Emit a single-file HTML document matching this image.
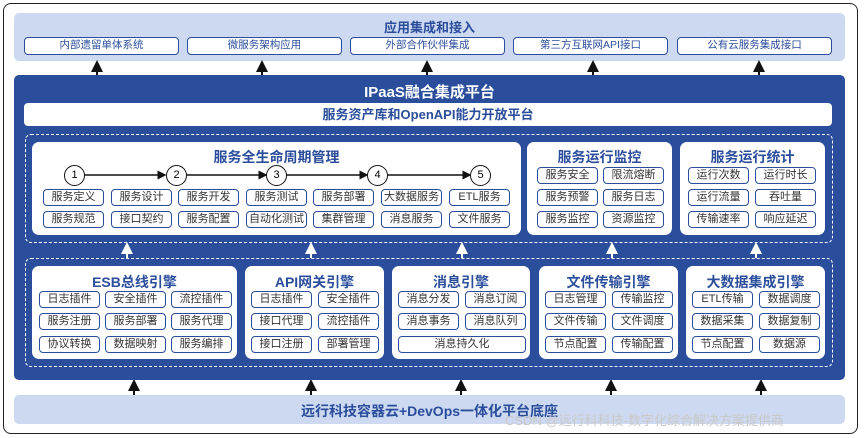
<!DOCTYPE html><html><head><meta charset="utf-8"><style>
*{margin:0;padding:0;box-sizing:border-box}
body{width:865px;height:438px;background:#fff;position:relative;overflow:hidden;font-family:"Liberation Sans","Noto Sans CJK SC",sans-serif}
div{position:absolute}
.b{border:1.5px solid #2a4d9c;border-radius:4px;background:#fff;font-size:11px;color:#333;text-align:center;line-height:14px}
.t{border:1.5px solid #2a4d9c;border-radius:4px;background:#fff;font-size:10.5px;color:#2a4d9c;text-align:center;line-height:15px;height:18px;top:37px;width:155px}
.card{background:#fff;border-radius:7px}
.h{font-weight:bold;color:#2a4d9c;font-size:14px;text-align:center}
.c{width:21px;height:21px;border:1.5px solid #111;border-radius:50%;background:#fff;font-size:11px;text-align:center;line-height:18px;top:165px}
.dash{border:1.5px dashed #fff;border-radius:6px}
.ua,.ba{width:2px;height:10px}
</style></head><body>
<div style="left:3px;top:3px;width:855px;height:431px;border:1.5px solid #222;border-radius:8px"></div>
<div style="left:14px;top:13px;width:831px;height:48px;background:#cdd9f0;border-radius:5px"></div>
<div class="h" style="left:14px;top:17px;width:831px;font-size:13px">应用集成和接入</div>
<div class="t" style="left:24px">内部遗留单体系统</div>
<div class="t" style="left:187px">微服务架构应用</div>
<div class="t" style="left:350px">外部合作伙伴集成</div>
<div class="t" style="left:513px">第三方互联网API接口</div>
<div class="t" style="left:677px">公有云服务集成接口</div>
<svg style="position:absolute;left:0;top:0" width="865" height="438">
<defs><marker id="k" markerWidth="6" markerHeight="6" refX="3" refY="3" orient="auto"><path d="M0,0L6,3L0,6z" fill="#111"/></marker>
<marker id="w" markerWidth="6" markerHeight="6" refX="3" refY="3" orient="auto"><path d="M0,0L6,3L0,6z" fill="#fff"/></marker></defs>
<g stroke="#111" stroke-width="2" marker-end="url(#k)">
<line x1="97" y1="75" x2="97" y2="66"/><line x1="262" y1="75" x2="262" y2="66"/><line x1="427" y1="75" x2="427" y2="66"/><line x1="593" y1="75" x2="593" y2="66"/><line x1="759" y1="75" x2="759" y2="66"/>
<line x1="134" y1="395" x2="134" y2="385"/><line x1="311" y1="395" x2="311" y2="385"/><line x1="461" y1="395" x2="461" y2="385"/><line x1="611" y1="395" x2="611" y2="385"/><line x1="761" y1="395" x2="761" y2="385"/>
</g></svg>
<div style="left:14px;top:75px;width:831px;height:305px;background:#2a4d9c;border-radius:5px"></div>
<div style="left:14px;top:81px;width:831px;text-align:center;color:#fff;font-weight:bold;font-size:15px">IPaaS融合集成平台</div>
<div style="left:24px;top:103px;width:808px;height:23px;background:#fff;border-radius:4px;text-align:center;color:#2a4d9c;font-weight:bold;font-size:13px;line-height:23px">服务资产库和OpenAPI能力开放平台</div>
<div class="dash" style="left:25px;top:134px;width:808px;height:109px"></div>
<div class="dash" style="left:25px;top:258px;width:808px;height:109px"></div>
<svg style="position:absolute;left:0;top:0" width="865" height="438"><g stroke="#fff" stroke-width="2" marker-end="url(#w)">
<line x1="127" y1="258" x2="127" y2="248"/><line x1="311" y1="258" x2="311" y2="248"/><line x1="462" y1="258" x2="462" y2="248"/><line x1="612" y1="258" x2="612" y2="248"/><line x1="756" y1="258" x2="756" y2="248"/></g></svg>
<!-- row 1 cards -->
<div class="card" style="left:32px;top:142px;width:489px;height:93px"></div>
<div class="h" style="left:32px;top:147px;width:489px">服务全生命周期管理</div>
<svg style="position:absolute;left:0;top:0" width="865" height="438"><g stroke="#111" stroke-width="1.5" marker-end="url(#k)">
<line x1="84" y1="175" x2="162" y2="175"/><line x1="186" y1="175" x2="263" y2="175"/><line x1="286" y1="175" x2="364" y2="175"/><line x1="387" y1="175" x2="467" y2="175"/></g></svg>
<div class="c" style="left:64px">1</div><div class="c" style="left:166px">2</div><div class="c" style="left:266px">3</div><div class="c" style="left:367px">4</div><div class="c" style="left:470px">5</div>
<div class="card" style="left:527px;top:142px;width:145px;height:93px"></div>
<div class="h" style="left:527px;top:147px;width:145px">服务运行监控</div>
<div class="card" style="left:680px;top:142px;width:145px;height:93px"></div>
<div class="h" style="left:680px;top:147px;width:145px">服务运行统计</div>
<!-- row 2 cards -->
<div class="card" style="left:32px;top:266px;width:205px;height:93px"></div>
<div class="h" style="left:32px;top:272px;width:205px">ESB总线引擎</div>
<div class="card" style="left:245px;top:266px;width:139px;height:93px"></div>
<div class="h" style="left:245px;top:272px;width:139px">API网关引擎</div>
<div class="card" style="left:392px;top:266px;width:138px;height:93px"></div>
<div class="h" style="left:392px;top:272px;width:138px">消息引擎</div>
<div class="card" style="left:539px;top:266px;width:139px;height:93px"></div>
<div class="h" style="left:539px;top:272px;width:139px">文件传输引擎</div>
<div class="card" style="left:686px;top:266px;width:139px;height:93px"></div>
<div class="h" style="left:686px;top:272px;width:139px">大数据集成引擎</div>
<!-- items -->
<div class="b" style="left:43px;top:189px;width:61px;height:17px">服务定义</div>
<div class="b" style="left:111px;top:189px;width:61px;height:17px">服务设计</div>
<div class="b" style="left:178px;top:189px;width:61px;height:17px">服务开发</div>
<div class="b" style="left:246px;top:189px;width:61px;height:17px">服务测试</div>
<div class="b" style="left:313px;top:189px;width:61px;height:17px">服务部署</div>
<div class="b" style="left:381px;top:189px;width:61px;height:17px">大数据服务</div>
<div class="b" style="left:449px;top:189px;width:61px;height:17px">ETL服务</div>
<div class="b" style="left:43px;top:211px;width:61px;height:17px">服务规范</div>
<div class="b" style="left:111px;top:211px;width:61px;height:17px">接口契约</div>
<div class="b" style="left:178px;top:211px;width:61px;height:17px">服务配置</div>
<div class="b" style="left:246px;top:211px;width:61px;height:17px">自动化测试</div>
<div class="b" style="left:313px;top:211px;width:61px;height:17px">集群管理</div>
<div class="b" style="left:381px;top:211px;width:61px;height:17px">消息服务</div>
<div class="b" style="left:449px;top:211px;width:61px;height:17px">文件服务</div>
<div class="b" style="left:537px;top:167px;width:61px;height:17px">服务安全</div>
<div class="b" style="left:603px;top:167px;width:61px;height:17px">限流熔断</div>
<div class="b" style="left:537px;top:189px;width:61px;height:17px">服务预警</div>
<div class="b" style="left:603px;top:189px;width:61px;height:17px">服务日志</div>
<div class="b" style="left:537px;top:211px;width:61px;height:17px">服务监控</div>
<div class="b" style="left:603px;top:211px;width:61px;height:17px">资源监控</div>
<div class="b" style="left:688px;top:167px;width:61px;height:17px">运行次数</div>
<div class="b" style="left:755px;top:167px;width:61px;height:17px">运行时长</div>
<div class="b" style="left:688px;top:189px;width:61px;height:17px">运行流量</div>
<div class="b" style="left:755px;top:189px;width:61px;height:17px">吞吐量</div>
<div class="b" style="left:688px;top:211px;width:61px;height:17px">传输速率</div>
<div class="b" style="left:755px;top:211px;width:61px;height:17px">响应延迟</div>

<div class="b" style="left:39px;top:291px;width:61px;height:17px">日志插件</div>
<div class="b" style="left:105px;top:291px;width:61px;height:17px">安全插件</div>
<div class="b" style="left:171px;top:291px;width:61px;height:17px">流控插件</div>
<div class="b" style="left:39px;top:313px;width:61px;height:17px">服务注册</div>
<div class="b" style="left:105px;top:313px;width:61px;height:17px">服务部署</div>
<div class="b" style="left:171px;top:313px;width:61px;height:17px">服务代理</div>
<div class="b" style="left:39px;top:336px;width:61px;height:17px">协议转换</div>
<div class="b" style="left:105px;top:336px;width:61px;height:17px">数据映射</div>
<div class="b" style="left:171px;top:336px;width:61px;height:17px">服务编排</div>
<div class="b" style="left:251px;top:291px;width:61px;height:17px">日志插件</div>
<div class="b" style="left:318px;top:291px;width:61px;height:17px">安全插件</div>
<div class="b" style="left:251px;top:313px;width:61px;height:17px">接口代理</div>
<div class="b" style="left:318px;top:313px;width:61px;height:17px">流控插件</div>
<div class="b" style="left:251px;top:336px;width:61px;height:17px">接口注册</div>
<div class="b" style="left:318px;top:336px;width:61px;height:17px">部署管理</div>
<div class="b" style="left:398px;top:291px;width:61px;height:17px">消息分发</div>
<div class="b" style="left:465px;top:291px;width:61px;height:17px">消息订阅</div>
<div class="b" style="left:398px;top:313px;width:61px;height:17px">消息事务</div>
<div class="b" style="left:465px;top:313px;width:61px;height:17px">消息队列</div>
<div class="b" style="left:398px;top:336px;width:128px;height:17px">消息持久化</div>
<div class="b" style="left:545px;top:291px;width:61px;height:17px">日志管理</div>
<div class="b" style="left:612px;top:291px;width:61px;height:17px">传输监控</div>
<div class="b" style="left:545px;top:313px;width:61px;height:17px">文件传输</div>
<div class="b" style="left:612px;top:313px;width:61px;height:17px">文件调度</div>
<div class="b" style="left:545px;top:336px;width:61px;height:17px">节点配置</div>
<div class="b" style="left:612px;top:336px;width:61px;height:17px">传输配置</div>
<div class="b" style="left:692px;top:291px;width:61px;height:17px">ETL传输</div>
<div class="b" style="left:759px;top:291px;width:61px;height:17px">数据调度</div>
<div class="b" style="left:692px;top:313px;width:61px;height:17px">数据采集</div>
<div class="b" style="left:759px;top:313px;width:61px;height:17px">数据复制</div>
<div class="b" style="left:692px;top:336px;width:61px;height:17px">节点配置</div>
<div class="b" style="left:759px;top:336px;width:61px;height:17px">数据源</div>

<div style="left:14px;top:395px;width:831px;height:29px;background:#cdd9f0;border-radius:5px"></div>
<div class="h" style="left:14px;top:401px;width:831px;font-size:14px">远行科技容器云+DevOps一体化平台底座</div>
<div style="left:505px;top:410px;width:360px;font-size:13px;color:#c8c8c8;white-space:nowrap">CSDN @远行科科技-数字化综合解决方案提供商</div>
</body></html>
